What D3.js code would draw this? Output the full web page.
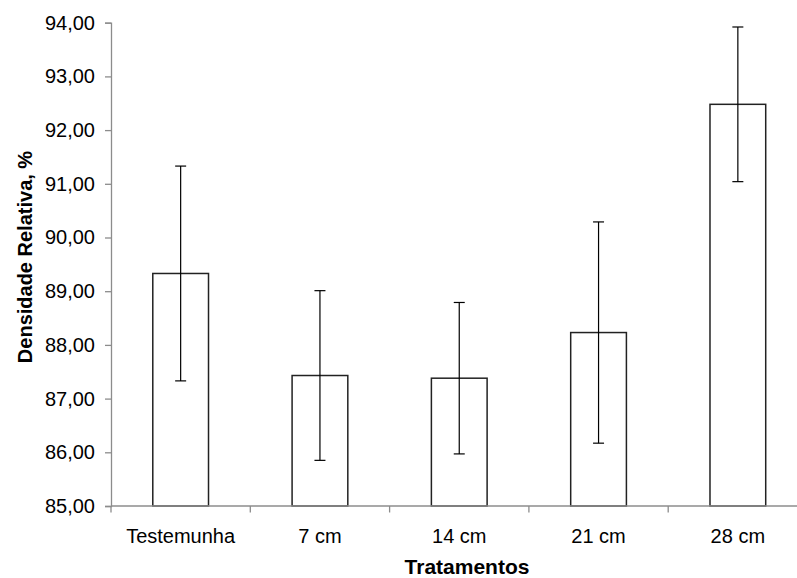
<!DOCTYPE html>
<html>
<head>
<meta charset="utf-8">
<script src="https://cdn.jsdelivr.net/npm/d3@7"></script>
<style>
  body { margin: 0; background: #fff; }
  svg { display: block; font-family: "Liberation Sans", Arial, sans-serif; }
</style>
</head>
<body>
<svg width="797" height="578"></svg>
<script>
// data
var categories = ["Testemunha", "7 cm", "14 cm", "21 cm", "28 cm"];
var means = [89.33, 87.43, 87.38, 88.23, 92.48];
var errors = [2.00, 1.58, 1.41, 2.06, 1.44];
var yTicks = [85, 86, 87, 88, 89, 90, 91, 92, 93, 94];

var svg = d3.select("svg"),
    margin = {left: 111, top: 22.7, bottom: 72},
    height = +svg.attr("height");

// plot area runs a little past the right edge, like the original
var x = d3.scaleBand()
    .domain(categories)
    .range([margin.left, 807.5])
    .padding(0);

var y = d3.scaleLinear()
    .domain([85, 94])
    .range([height - margin.bottom, margin.top]);

var fmt = function (v) { return d3.format(".2f")(v).replace(".", ","); };
var axisColor = "#8c8c8c";

// y axis
var yAxis = svg.append("g")
    .attr("transform", "translate(" + margin.left + ",0)")
    .call(d3.axisLeft(y).tickValues(yTicks).tickFormat(fmt).tickSize(6).tickPadding(10));
yAxis.select(".domain").attr("stroke", axisColor).attr("stroke-width", 1.3);
yAxis.selectAll(".tick line").attr("stroke", axisColor).attr("stroke-width", 1.3);
yAxis.selectAll(".tick text")
    .attr("fill", "#000")
    .style("font-size", "20px")
    .style("font-family", "Liberation Sans, Arial, sans-serif");

// bars
var bw = x.bandwidth() * 0.4;
svg.append("g")
    .selectAll("rect")
    .data(categories)
    .enter().append("rect")
    .attr("x", function (d) { return x(d) + (x.bandwidth() - bw) / 2; })
    .attr("y", function (d, i) { return y(means[i]); })
    .attr("width", bw)
    .attr("height", function (d, i) { return y(85) - y(means[i]); })
    .attr("fill", "#fff")
    .attr("stroke", "#222")
    .attr("stroke-width", 1.5);

// x axis (drawn over bar bottoms)
var xg = svg.append("g");
xg.append("line")
    .attr("x1", margin.left).attr("x2", 807.5)
    .attr("y1", y(85)).attr("y2", y(85))
    .attr("stroke", axisColor).attr("stroke-width", 1.3);
var bounds = categories.map(function (d) { return x(d); }).concat([x.range()[1]]);
xg.selectAll("line.tk")
    .data(bounds)
    .enter().append("line")
    .attr("class", "tk")
    .attr("x1", function (d) { return d; }).attr("x2", function (d) { return d; })
    .attr("y1", y(85)).attr("y2", y(85) + 6.5)
    .attr("stroke", axisColor).attr("stroke-width", 1.3);
xg.selectAll("text")
    .data(categories)
    .enter().append("text")
    .attr("x", function (d) { return x(d) + x.bandwidth() / 2; })
    .attr("y", y(85) + 37)
    .attr("text-anchor", "middle")
    .style("font-size", "20px")
    .text(function (d) { return d; });

// error bars
var cap = 5.5;
var eb = svg.append("g").attr("stroke", "#000").attr("stroke-width", 1.2);
categories.forEach(function (c, i) {
    var cx = x(c) + x.bandwidth() / 2;
    eb.append("line")
        .attr("x1", cx).attr("x2", cx)
        .attr("y1", y(means[i] + errors[i])).attr("y2", y(means[i] - errors[i]));
    [means[i] + errors[i], means[i] - errors[i]].forEach(function (v) {
        eb.append("line")
            .attr("x1", cx - cap).attr("x2", cx + cap)
            .attr("y1", y(v)).attr("y2", y(v));
    });
});

// axis titles
svg.append("text")
    .attr("x", 467)
    .attr("y", 574)
    .attr("text-anchor", "middle")
    .style("font-size", "21px")
    .style("font-weight", "bold")
    .text("Tratamentos");

svg.append("text")
    .attr("transform", "translate(32,257) rotate(-90)")
    .attr("text-anchor", "middle")
    .style("font-size", "20px")
    .style("font-weight", "bold")
    .text("Densidade Relativa, %");
</script>
</body>
</html>
